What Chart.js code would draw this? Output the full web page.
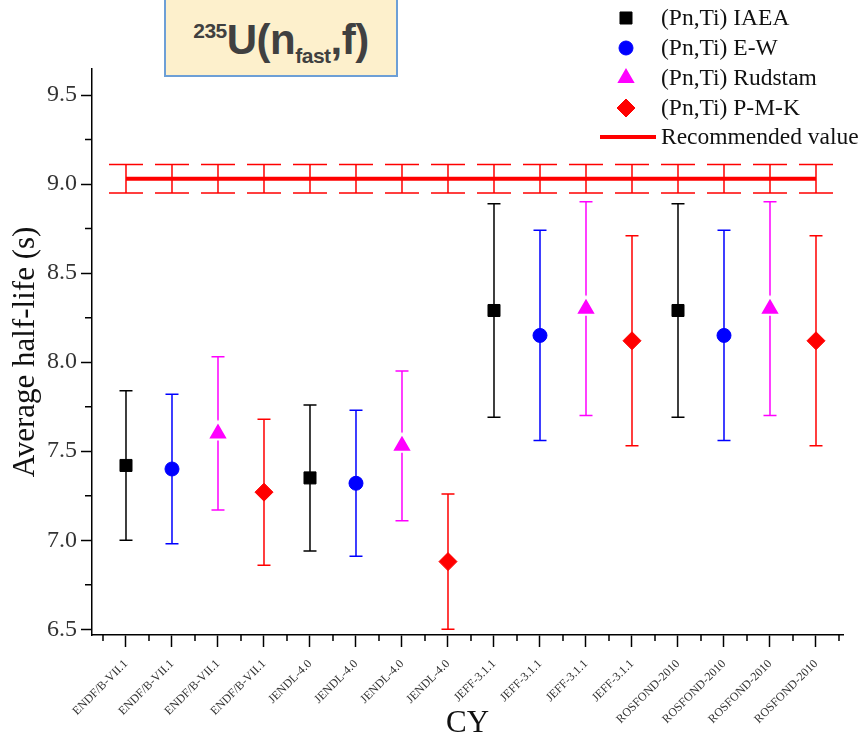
<!DOCTYPE html>
<html>
<head>
<meta charset="utf-8">
<script src="https://cdn.jsdelivr.net/npm/chart.js@4.4.1/dist/chart.umd.min.js"></script>
<style>
    html, body { margin: 0; padding: 0; background: #fff; }
    #wrap { position: relative; width: 865px; height: 744px; overflow: hidden; }
    #title-box {
        position: absolute; left: 164px; top: -6px; width: 230px; height: 79px;
        background: #fdf0cc; border: 2px solid #6d9fd6;
        font-family: 'Liberation Sans', Arial, sans-serif; font-weight: bold;
        color: #404040; font-size: 42px; text-align: center; line-height: 88px;
        letter-spacing: -0.5px;
    }
    #title-box sup { font-size: 21px; vertical-align: 16px; line-height: 0; }
    #title-box sub { font-size: 21px; vertical-align: -9px; line-height: 0; }
</style>
</head>
<body>
<div id="wrap">
    <canvas id="cyChart" width="865" height="744"></canvas>
    <div id="title-box"><sup>235</sup>U(n<sub>fast</sub>,f)</div>
</div>
<script>
'use strict';

const libraries = ['ENDF/B-VII.1', 'JENDL-4.0', 'JEFF-3.1.1', 'ROSFOND-2010'];
const methods = ['(Pn,Ti) IAEA', '(Pn,Ti) E-W', '(Pn,Ti) Rudstam', '(Pn,Ti) P-M-K'];

// one value per library, in the order of `libraries`
const iaeaValues = [7.42, 7.35, 8.29, 8.29];
const iaeaErrors = [0.42, 0.41, 0.60, 0.60];
const ewValues = [7.40, 7.32, 8.15, 8.15];
const ewErrors = [0.42, 0.41, 0.59, 0.59];
const rudstamValues = [7.60, 7.53, 8.30, 8.30];
const rudstamErrors = [0.43, 0.42, 0.60, 0.60];
const pmkValues = [7.27, 6.88, 8.12, 8.12];
const pmkErrors = [0.41, 0.38, 0.59, 0.59];

const recommendedValue = 9.03;
const recommendedError = 0.08;
const recommendedLabel = 'Recommended value';

const yTicks = [6.5, 7.0, 7.5, 8.0, 8.5, 9.0, 9.5];
const cyLabels = libraries.flatMap(lib => methods.map(() => lib));

const seriesColors = ['#000000', '#0000ff', '#ff00ff', '#ff0000'];
const seriesStyles = [
    { pointStyle: 'rect', radius: 8.5, borderWidth: 1, borderColor: '#000000' },
    { pointStyle: 'circle', radius: 7, borderWidth: 1, borderColor: '#0000ff' },
    { pointStyle: 'triangle', radius: 12, borderWidth: 2, borderColor: '#ffffff' },
    { pointStyle: 'rectRot', radius: 9, borderWidth: 1, borderColor: '#ff0000' }
];

function seriesData(values, errors, j) {
    return values.map((v, i) => ({ x: i * methods.length + j + 1, y: v, err: errors[i] }));
}

const allSeries = [
    seriesData(iaeaValues, iaeaErrors, 0),
    seriesData(ewValues, ewErrors, 1),
    seriesData(rudstamValues, rudstamErrors, 2),
    seriesData(pmkValues, pmkErrors, 3)
];

const errorBars = {
    id: 'errorBars',
    beforeDatasetsDraw(chart) {
        const ctx = chart.ctx;
        const xs = chart.scales.x;
        const ys = chart.scales.y;
        ctx.save();
        ctx.lineWidth = 1.5;

        // recommended value band, wide caps at every CY
        ctx.strokeStyle = '#ff0000';
        cyLabels.forEach((_, k) => {
            const px = xs.getPixelForValue(k + 1);
            const top = ys.getPixelForValue(recommendedValue + recommendedError);
            const bot = ys.getPixelForValue(recommendedValue - recommendedError);
            ctx.beginPath();
            ctx.moveTo(px, top); ctx.lineTo(px, bot);
            ctx.moveTo(px - 17, top); ctx.lineTo(px + 17, top);
            ctx.moveTo(px - 17, bot); ctx.lineTo(px + 17, bot);
            ctx.stroke();
        });

        allSeries.forEach((data, j) => {
            ctx.strokeStyle = seriesColors[j];
            data.forEach(p => {
                const px = xs.getPixelForValue(p.x);
                const top = ys.getPixelForValue(p.y + p.err);
                const bot = ys.getPixelForValue(p.y - p.err);
                ctx.beginPath();
                ctx.moveTo(px, top); ctx.lineTo(px, bot);
                ctx.moveTo(px - 6.5, top); ctx.lineTo(px + 6.5, top);
                ctx.moveTo(px - 6.5, bot); ctx.lineTo(px + 6.5, bot);
                ctx.stroke();
            });
        });
        ctx.restore();
    }
};

const minorTicks = {
    id: 'minorTicks',
    afterDraw(chart) {
        const ctx = chart.ctx;
        const xs = chart.scales.x;
        const ys = chart.scales.y;
        const area = chart.chartArea;
        ctx.save();
        ctx.strokeStyle = '#000';
        ctx.lineWidth = 1.5;
        ctx.beginPath();
        for (let k = 0; k <= cyLabels.length; k++) {
            const px = xs.getPixelForValue(k + 0.5);
            ctx.moveTo(px, area.bottom); ctx.lineTo(px, area.bottom + 6);
        }
        yTicks.forEach(v => {
            const py = ys.getPixelForValue(v + 0.25);
            if (py > area.top) {
                ctx.moveTo(area.left, py); ctx.lineTo(area.left - 7, py);
            }
        });
        ctx.stroke();
        ctx.restore();
    }
};

const legendBox = {
    id: 'legendBox',
    afterDraw(chart) {
        const ctx = chart.ctx;
        const rows = [18, 48, 78, 108];
        ctx.save();
        ctx.font = '23.5px "Liberation Serif", "Times New Roman", serif';
        ctx.textBaseline = 'middle';
        ctx.textAlign = 'left';
        methods.forEach((name, j) => {
            const st = seriesStyles[j];
            ctx.fillStyle = seriesColors[j];
            ctx.strokeStyle = st.borderColor;
            ctx.lineWidth = st.borderWidth;
            Chart.helpers.drawPoint(ctx, { pointStyle: st.pointStyle, radius: st.radius, borderWidth: st.borderWidth, rotation: 0 }, 626, rows[j]);
            ctx.fillStyle = '#111';
            ctx.fillText(name, 661, rows[j] + 1);
        });
        ctx.strokeStyle = '#ff0000';
        ctx.lineWidth = 4;
        ctx.beginPath();
        ctx.moveTo(600, 137); ctx.lineTo(656, 137);
        ctx.stroke();
        ctx.fillStyle = '#111';
        ctx.fillText(recommendedLabel, 661, 138);
        ctx.restore();
    }
};

const datasets = methods.map((name, j) => ({
    type: 'scatter',
    label: name,
    data: allSeries[j],
    backgroundColor: seriesColors[j],
    borderColor: seriesStyles[j].borderColor,
    borderWidth: seriesStyles[j].borderWidth,
    pointStyle: seriesStyles[j].pointStyle,
    pointRadius: seriesStyles[j].radius,
    pointHoverRadius: seriesStyles[j].radius
}));

datasets.unshift({
    type: 'line',
    label: recommendedLabel,
    data: [{ x: 1, y: recommendedValue }, { x: cyLabels.length, y: recommendedValue }],
    borderColor: '#ff0000',
    borderWidth: 4,
    pointRadius: 0,
    fill: false
});

const serif = '"Liberation Serif", "Times New Roman", serif';

new Chart(document.getElementById('cyChart'), {
    data: { datasets: datasets },
    plugins: [errorBars, minorTicks, legendBox],
    options: {
        responsive: false,
        animation: false,
        layout: { padding: { top: 69, right: 22, left: 0, bottom: 0 } },
        plugins: {
            legend: { display: false },
            tooltip: { enabled: false }
        },
        scales: {
            x: {
                type: 'linear',
                min: 0.261,
                max: 16.587,
                afterFit: s => { s.height = 109; },
                afterBuildTicks: s => { s.ticks = cyLabels.map((_, k) => ({ value: k + 1 })); },
                ticks: {
                    autoSkip: false,
                    minRotation: 45,
                    maxRotation: 45,
                    padding: 10,
                    color: '#333',
                    font: { family: serif, size: 12 },
                    callback: v => cyLabels[Math.round(v) - 1]
                },
                grid: { drawOnChartArea: false, tickLength: 12, tickColor: '#000', tickWidth: 1.5 },
                border: { display: true, color: '#000', width: 1.5 },
                title: {
                    display: true, text: 'CY', color: '#111',
                    font: { family: serif, size: 31 },
                    padding: { top: 0, bottom: 2 }
                }
            },
            y: {
                type: 'linear',
                min: 6.468,
                max: 9.646,
                afterFit: s => { s.width = 92; },
                afterBuildTicks: s => { s.ticks = yTicks.map(v => ({ value: v })); },
                ticks: {
                    padding: 4,
                    color: '#333',
                    font: { family: serif, size: 24 },
                    callback: v => v.toFixed(1)
                },
                grid: { drawOnChartArea: false, tickLength: 11, tickColor: '#000', tickWidth: 1.5 },
                border: { display: true, color: '#000', width: 1.5 },
                title: {
                    display: true, text: 'Average half-life (s)', color: '#111',
                    font: { family: serif, size: 31 },
                    padding: { top: 7, bottom: 0 }
                }
            }
        }
    }
});
</script>
</body>
</html>
